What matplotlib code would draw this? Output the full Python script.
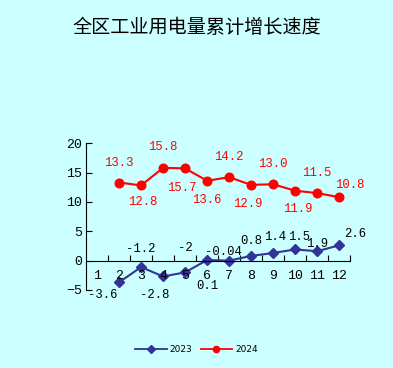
import matplotlib
matplotlib.use('Agg')
import matplotlib.pyplot as plt
from matplotlib.ticker import FixedLocator, NullFormatter

plt.rcParams['font.family'] = ['Liberation Mono', 'DejaVu Sans']

BG = '#CCFFFF'
BLUE = '#333399'
RED = '#FF0000'

months = list(range(1, 13))
x_data = list(range(2, 13))
v2023 = [-3.7, -1.1, -2.7, -2.0, 0.1, 0.0, 0.8, 1.3, 1.9, 1.6, 2.6]
v2024 = [13.3, 12.8, 15.8, 15.7, 13.6, 14.2, 12.9, 13.0, 11.9, 11.5, 10.8]
lab2023 = ['-3.6', '-1.2', '-2.8', '-2', '0.1', '-0.04', '0.8', '1.4', '1.5', '1.9', '2.6']
lab2024 = ['13.3', '12.8', '15.8', '15.7', '13.6', '14.2', '12.9', '13.0', '11.9', '11.5', '10.8']

# label offsets (dx in categories, dy in data units) per point
off2023 = [(-0.73, -2.1), (0.0, 3.1), (-0.36, -3.1), (0.0, 4.2), (0.0, -4.35),
           (-0.27, 1.4), (0.0, 2.6), (0.1, 2.8), (0.2, 2.2), (0.0, 1.3), (0.73, 2.0)]
off2024 = [(0.0, 3.4), (0.1, -2.9), (0.0, 3.6), (-0.14, -3.3), (0.0, -3.2),
           (0.0, 3.5), (-0.14, -3.2), (0.0, 3.5), (0.1, -3.1), (0.0, 3.5), (0.5, 2.0)]

fig = plt.figure(figsize=(3.93, 3.68), dpi=100, facecolor=BG)
ax = fig.add_axes([0.219, 0.212, 0.672, 0.399], facecolor=BG)

ax.plot(x_data, v2023, color=BLUE, marker='D', ms=5.5, lw=1.5, label='2023')
ax.plot(x_data, v2024, color=RED, marker='o', ms=6.2, lw=1.5, label='2024')

for x, y, t, (dx, dy) in zip(x_data, v2023, lab2023, off2023):
    ax.text(x + dx, y + dy, t, ha='center', va='center', fontsize=8.8, color='black')
for x, y, t, (dx, dy) in zip(x_data, v2024, lab2024, off2024):
    ax.text(x + dx, y + dy, t, ha='center', va='center', fontsize=8.8, color=RED)

ax.set_xlim(0.5, 12.5)
ax.set_ylim(-5, 20)
ax.set_yticks([-5, 0, 5, 10, 15, 20])
ax.tick_params(axis='y', direction='in', length=4, labelsize=9.5, pad=3)

ax.spines['top'].set_visible(False)
ax.spines['right'].set_visible(False)
ax.spines['bottom'].set_position(('data', 0))
ax.xaxis.set_major_locator(FixedLocator([m + 0.5 for m in months]))
ax.xaxis.set_major_formatter(NullFormatter())
ax.tick_params(axis='x', direction='in', length=4)
for m in months:
    ax.text(m, -2.7, str(m), ha='center', va='center', fontsize=9.5)

fig.text(0.5, 0.925, '全区工业用电量累计增长速度', ha='center', va='center',
         fontsize=13.8, family=['Noto Sans CJK SC'])

leg = fig.legend(loc='center', bbox_to_anchor=(0.5, 0.05), ncol=2, frameon=False,
                 handlelength=3.5, columnspacing=0.9, handletextpad=0.3,
                 prop={'family': 'DejaVu Sans', 'size': 6.5})
for h in leg.legend_handles:
    h.set_markersize(4.5)
    h.set_linewidth(1.3)

fig.savefig('out.png', dpi=100, facecolor=BG)
